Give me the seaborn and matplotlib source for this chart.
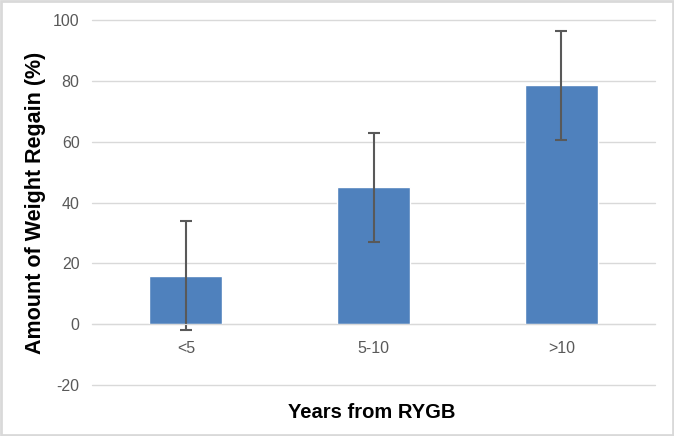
import numpy as np
import pandas as pd
import seaborn as sns
import matplotlib.pyplot as plt
from matplotlib.patches import Rectangle

# values
categories = ["<5", "5-10", ">10"]
regain = [16, 45, 78.5]
regain_err = [18, 18, 18]
y_ticks = [-20, 0, 20, 40, 60, 80, 100]

df = pd.DataFrame({"years": categories, "regain": regain})

sns.set_style("white")
plt.rcParams["font.family"] = ["Liberation Sans", "DejaVu Sans"]
plt.rcParams["axes.unicode_minus"] = False

fig = plt.figure(figsize=(6.74, 4.36), dpi=100)
ax = fig.add_axes([0.1365, 0.117, 0.8355, 0.837])

# gridlines behind bars
ax.set_axisbelow(True)
ax.yaxis.grid(True, color="#D9D9D9", linewidth=1)

sns.barplot(data=df, x="years", y="regain", ax=ax, color="#4F81BD",
            saturation=1, width=0.39, errorbar=None)
ax.errorbar(np.arange(len(categories)), regain, yerr=regain_err, fmt="none",
            ecolor="#595959", elinewidth=1.5, capsize=4.5, capthick=1.5)

ax.set_ylim(-20, 100)
ax.set_xlim(-0.5, len(categories) - 0.5)
ax.set_yticks(y_ticks)
for gl in ax.get_ygridlines():
    gl.set_clip_on(False)

# category labels sit right under the zero line, like Excel does
for s in ["top", "right", "left"]:
    ax.spines[s].set_visible(False)
ax.spines["bottom"].set_position(("data", 0))
ax.spines["bottom"].set_color("#D9D9D9")
ax.tick_params(axis="x", length=0, pad=12, labelsize=11.5, labelcolor="#595959")
ax.tick_params(axis="y", length=0, pad=9, labelsize=11.5, labelcolor="#595959")

ax.set_xlabel("")
ax.set_ylabel("Amount of Weight Regain (%)", fontsize=15.5, fontweight="bold",
              color="black", labelpad=5)
fig.text(0.552, 0.055, "Years from RYGB", ha="center", va="center",
         fontsize=14.5, fontweight="bold", color="black")

# light frame around the whole chart
fig.patches.append(Rectangle((0.002, 0.003), 0.996, 0.994, transform=fig.transFigure,
                             fill=False, edgecolor="#D9D9D9", linewidth=2))

fig.savefig("out.png", dpi=100)
